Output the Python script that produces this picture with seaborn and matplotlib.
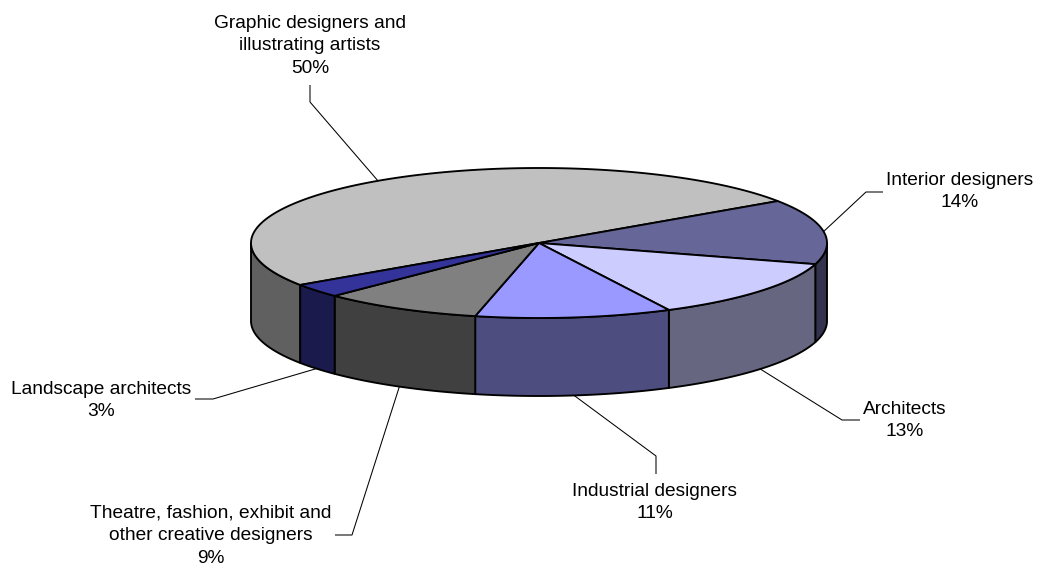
import numpy as np
import matplotlib
matplotlib.use("Agg")
import matplotlib.pyplot as plt
from matplotlib.patches import Polygon
import seaborn as sns

# Occupations share (percent), listed clockwise from the left edge of the pie
categories = [
    "Graphic designers and\nillustrating artists",
    "Interior designers",
    "Architects",
    "Industrial designers",
    "Theatre, fashion, exhibit and\nother creative designers",
    "Landscape architects",
]
shares = [50, 14, 13, 11, 9, 3]

top_colors = ["#C0C0C0", "#666699", "#CCCCFF", "#9999FF", "#808080", "#333399"]

sns.set_theme(style="white")
plt.rcParams["font.family"] = ["Liberation Sans", "DejaVu Sans"]

palette = sns.color_palette(top_colors)
side_palette = [tuple(c * 0.5 for c in col) for col in palette]

# Pie geometry in pixel space
CX, CY = 539.0, 243.0
RX, RY = 288.0, 75.0
DEPTH = 78.0
START = 214.0  # degrees, slices run clockwise from here

fig = plt.figure(figsize=(10.39, 5.67), dpi=100)
ax = fig.add_axes([0, 0, 1, 1])
ax.set_xlim(0, 1039)
ax.set_ylim(567, 0)
ax.axis("off")


def ell(theta_deg, drop=0.0):
    t = np.radians(theta_deg)
    return CX + RX * np.cos(t), CY - RY * np.sin(t) + drop


# slice angle spans
total = float(sum(shares))
spans = []
a = START
for v in shares:
    sweep = 360.0 * v / total
    spans.append((a, a - sweep))
    a -= sweep

edge_kw = dict(edgecolor="black", linewidth=1.35, joinstyle="round")

# front side walls (angles between 180 and 360 degrees)
for (a0, a1), col in zip(spans, side_palette):
    lo, hi = a1, a0
    for shift in (-360.0, 0.0, 360.0):
        s_lo = max(lo + shift, 180.0)
        s_hi = min(hi + shift, 360.0)
        if s_hi - s_lo <= 0.01:
            continue
        th = np.linspace(s_lo, s_hi, 120)
        top = [ell(t) for t in th]
        bot = [ell(t, DEPTH) for t in th[::-1]]
        ax.add_patch(Polygon(top + bot, closed=True, facecolor=col, **edge_kw))

# top face wedges
for (a0, a1), col in zip(spans, palette):
    th = np.linspace(a0, a1, 200)
    pts = [(CX, CY)] + [ell(t) for t in th]
    ax.add_patch(Polygon(pts, closed=True, facecolor=col, **edge_kw))

# labels with leader lines
label_pos = [(310, 46), (960, 191.5), (905, 420.5), (655, 502.5), (211, 536), (101.5, 400.5)]
leader_start = [(310, 85), (883, 192), (860, 420), (656, 474), (335, 535), (195, 399)]
leader_elbow = [(310, 102), (866, 192), (842, 420), (656, 456), (352, 535), (213, 399)]

for i, (cat, v) in enumerate(zip(categories, shares)):
    a0, a1 = spans[i]
    mid = (a0 + a1) / 2.0
    drop = DEPTH if np.sin(np.radians(mid)) < 0 else 0.0
    anchor = ell(mid, drop)
    xs = [leader_start[i][0], leader_elbow[i][0], anchor[0]]
    ys = [leader_start[i][1], leader_elbow[i][1], anchor[1]]
    ax.plot(xs, ys, color="black", linewidth=0.75, solid_capstyle="butt")
    ax.text(label_pos[i][0], label_pos[i][1], f"{cat}\n{v}%", ha="center", va="center",
            fontsize=13.8, color="black", linespacing=1.43, multialignment="center")

fig.savefig("out.png", dpi=100, facecolor="white")
